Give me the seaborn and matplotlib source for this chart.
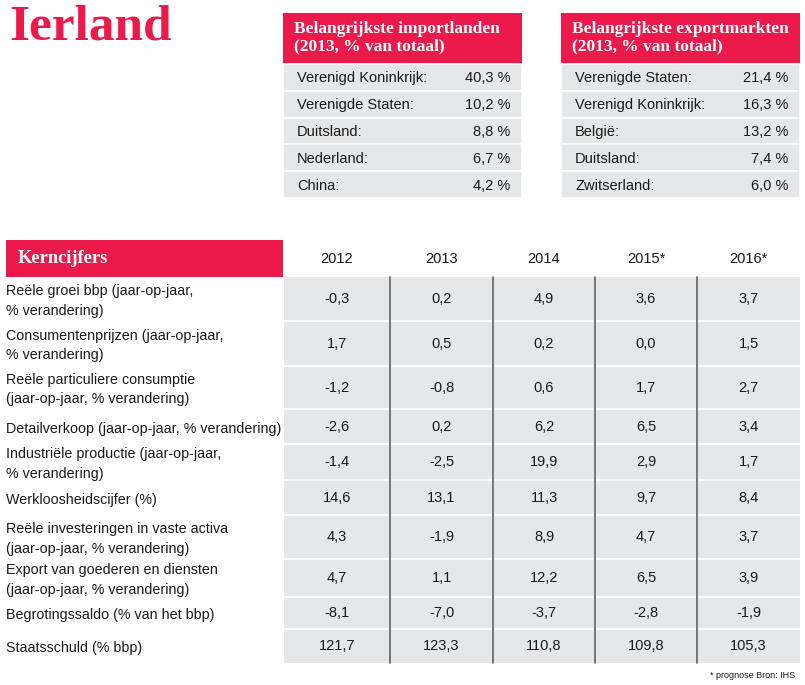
import numpy as np
import pandas as pd
import matplotlib
matplotlib.use('Agg')
import matplotlib.pyplot as plt
from matplotlib.patches import Rectangle
import seaborn as sns

# data
import_countries = ['Verenigd Koninkrijk:', 'Verenigde Staten:', 'Duitsland:', 'Nederland:', 'China:']
import_shares = [40.3, 10.2, 8.8, 6.7, 4.2]
export_countries = ['Verenigde Staten:', 'Verenigd Koninkrijk:', 'België:', 'Duitsland:', 'Zwitserland:']
export_shares = [21.4, 16.3, 13.2, 7.4, 6.0]

years = ['2012', '2013', '2014', '2015*', '2016*']
indicators = [
    'Reële groei bbp (jaar-op-jaar,\n% verandering)',
    'Consumentenprijzen (jaar-op-jaar,\n% verandering)',
    'Reële particuliere consumptie\n(jaar-op-jaar, % verandering)',
    'Detailverkoop (jaar-op-jaar, % verandering)',
    'Industriële productie (jaar-op-jaar,\n% verandering)',
    'Werkloosheidscijfer (%)',
    'Reële investeringen in vaste activa\n(jaar-op-jaar, % verandering)',
    'Export van goederen en diensten\n(jaar-op-jaar, % verandering)',
    'Begrotingssaldo (% van het bbp)',
    'Staatsschuld (% bbp)',
]
v2012 = [-0.3, 1.7, -1.2, -2.6, -1.4, 14.6, 4.3, 4.7, -8.1, 121.7]
v2013 = [0.2, 0.5, -0.8, 0.2, -2.5, 13.1, -1.9, 1.1, -7.0, 123.3]
v2014 = [4.9, 0.2, 0.6, 6.2, 19.9, 11.3, 8.9, 12.2, -3.7, 110.8]
v2015 = [3.6, 0.0, 1.7, 6.5, 2.9, 9.7, 4.7, 6.5, -2.8, 109.8]
v2016 = [3.7, 1.5, 2.7, 3.4, 1.7, 8.4, 3.7, 3.9, -1.9, 105.3]

df = pd.DataFrame({'2012': v2012, '2013': v2013, '2014': v2014,
                   '2015*': v2015, '2016*': v2016}, index=indicators)

RED = '#EB1A4B'
GREY = '#E6E7E8'
LINE = '#6D6E70'
TXT = '#1A1A1A'
SANS = ['Liberation Sans', 'DejaVu Sans']
SERIF = ['Liberation Serif', 'DejaVu Serif']


def fmt(v):
    return f'{v:.1f}'.replace('.', ',')


def main():
    sns.set_theme(style='white')
    plt.rcParams['font.family'] = SANS

    fig = plt.figure(figsize=(8.05, 6.85), dpi=100)
    ax = fig.add_axes([0, 0, 1, 1])
    ax.set_xlim(0, 805)
    ax.set_ylim(685, 0)
    ax.axis('off')

    # title
    ax.text(9, 39, 'Ierland', color=RED, fontsize=37, fontweight='bold',
            family=SERIF, va='baseline', ha='left')

    # small boxes
    def share_box(x0, x1, title, names, shares):
        ax.add_patch(Rectangle((x0, 13), x1 - x0, 51, color=RED, lw=0))
        ax.text(x0 + 11, 37.5, title, color='white', fontsize=12.5, fontweight='bold',
                family=SERIF, va='center', ha='left', linespacing=1.1)
        rh = 26.8
        for i, (n, s) in enumerate(zip(names, shares)):
            top = 64 + i * rh
            ax.add_patch(Rectangle((x0, top), x1 - x0, rh, facecolor=GREY,
                                   edgecolor='white', lw=1.2))
            ax.text(x0 + 14, top + rh / 2 + 1, n, color=TXT, fontsize=10.5,
                    va='center', ha='left')
            ax.text(x1 - 12, top + rh / 2 + 1, fmt(s) + ' %', color=TXT, fontsize=10.5,
                    va='center', ha='right')

    share_box(283, 522, 'Belangrijkste importlanden\n(2013, % van totaal)',
              import_countries, import_shares)
    share_box(561, 800, 'Belangrijkste exportmarkten\n(2013, % van totaal)',
              export_countries, export_shares)

    # key figures header
    ax.add_patch(Rectangle((6, 240), 277, 37, color=RED, lw=0))
    ax.text(18, 258.5, 'Kerncijfers', color='white', fontsize=13.2, fontweight='bold',
            family=SERIF, va='center', ha='left')

    col_edges = [284, 390, 493, 595, 697, 800]
    row_edges = [277, 321, 366, 409, 444, 480, 515, 559, 597, 629, 663]

    for j, y in enumerate(df.columns):
        cx = (col_edges[j] + col_edges[j + 1]) / 2
        ax.text(cx, 258.5, y, color=TXT, fontsize=10.5, va='center', ha='center')

    # grey body
    ax.add_patch(Rectangle((col_edges[0], row_edges[0]), col_edges[-1] - col_edges[0],
                           row_edges[-1] - row_edges[0], color=GREY, lw=0))
    for yb in row_edges[1:-1]:
        ax.plot([col_edges[0], col_edges[-1]], [yb, yb], color='white', lw=1.3)
    for xb in col_edges[1:-1]:
        ax.plot([xb, xb], [row_edges[0], row_edges[-1]], color=LINE, lw=1.3)

    for i, ind in enumerate(df.index):
        cy = (row_edges[i] + row_edges[i + 1]) / 2
        ax.text(6, cy + 2, ind, color=TXT, fontsize=10.3, va='center', ha='left',
                linespacing=1.5)
        for j, y in enumerate(df.columns):
            cx = (col_edges[j] + col_edges[j + 1]) / 2
            ax.text(cx, cy, fmt(df.loc[ind, y]), color=TXT, fontsize=10.5,
                    va='center', ha='center')

    ax.text(795, 676, '* prognose Bron: IHS', color=TXT, fontsize=6.5,
            va='center', ha='right')

    fig.savefig('out.png', dpi=100)


if __name__ == '__main__':
    main()
